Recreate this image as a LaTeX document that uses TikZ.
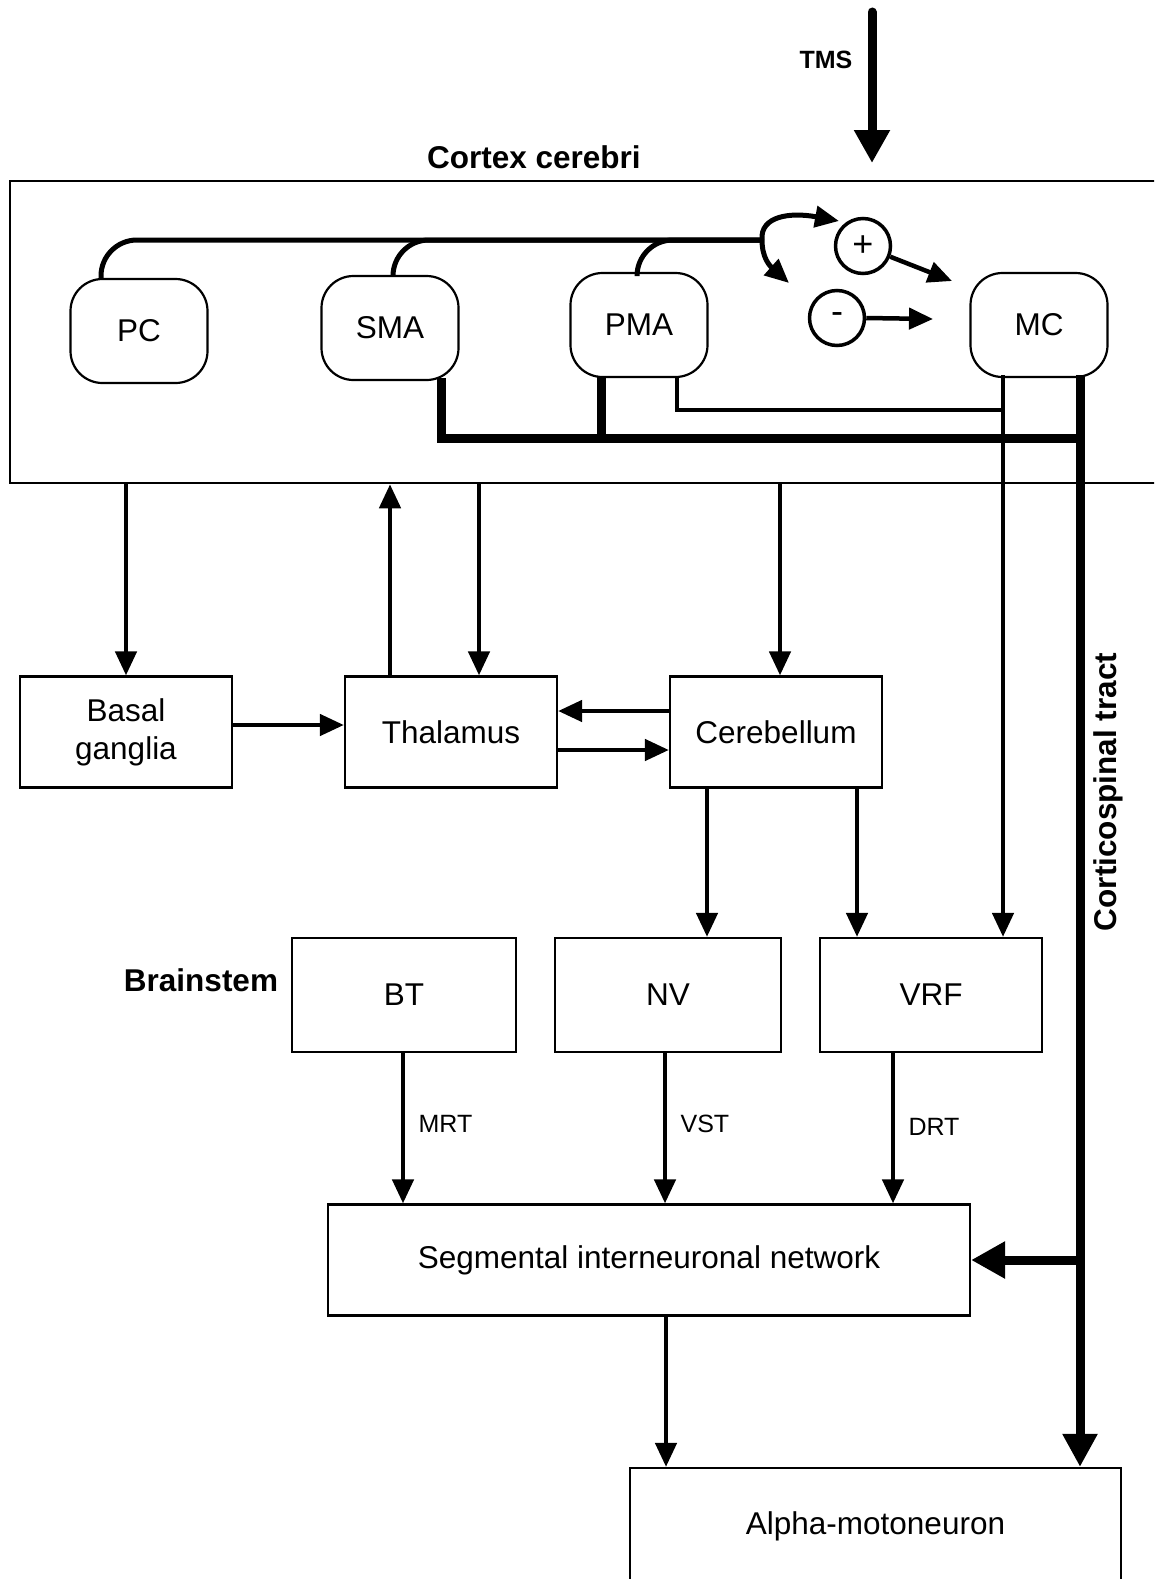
\documentclass[tikz,border=0pt]{standalone}
\usepackage{fontspec}
\setmainfont{Liberation Sans}
\usetikzlibrary{arrows.meta}
\tikzset{
  big/.style={font=\fontsize{31.5}{38}\selectfont},
  small/.style={font=\fontsize{25}{30}\selectfont},
  rbox/.style={draw, line width=2.2pt, rounded corners=32pt, minimum width=137pt, minimum height=104pt, inner sep=0pt, big},
  sbox/.style={draw, line width=2.2pt, inner sep=0pt, big, align=center},
  conn/.style={line width=4.5pt, -{Triangle[length=24pt,width=21pt]}},
  plain/.style={line width=4.5pt},
  bus/.style={line width=5pt, rounded corners=36pt},
  thickbus/.style={line width=9pt},
  bigtip/.style={-{Triangle[length=33pt,width=33pt]}},
  sign/.style={circle, draw, line width=3.5pt, minimum size=55pt, inner sep=0pt, font=\fontsize{36}{36}\selectfont}
}
\begin{document}
\begin{tikzpicture}[x=1pt,y=-1pt]
\useasboundingbox (0,0) rectangle (1154,1579);
\clip (0,0) rectangle (1154,1579);
% cortex
\node[draw, line width=2.5pt, minimum width=1165pt, minimum height=302pt, inner sep=0pt] (ctx) at (592.5,332) {};
\node[big, font=\fontsize{31.5}{38}\selectfont\bfseries] (ctxlab) at (534,157) {Cortex cerebri};
\node[small, font=\fontsize{25}{30}\selectfont\bfseries] (tmslab) at (826,60) {TMS};
\coordinate (tmsstart) at (872,12);
\draw[line width=9pt, line cap=round, -{Triangle[length=33pt,width=34pt]}] (tmsstart) -- (872,163);

\node[rbox] (pc) at (139,331) {PC};
\node[rbox] (sma) at (390,328) {SMA};
\node[rbox] (pma) at (639,325) {PMA};
\node[rbox] (mc) at (1039,325) {MC};
\node[sign] (plus) at (863,246) {+};
\node[sign] (minus) at (837,318) {-};

% top bus
\coordinate (split) at (762,240);
\draw[bus] ([xshift=-38pt]pc.north) |- (split);
\draw[bus] ([xshift=3pt]sma.north) |- (split);
\draw[bus] ([xshift=-2pt]pma.north) |- (split);
\coordinate (toplus) at (839,221);
\coordinate (tominus) at (789,283);
\draw[line width=5pt, -{Triangle[length=24pt,width=21pt]}] (split) .. controls (760,216) and (790,212) .. (toplus);
\draw[line width=5pt, -{Triangle[length=24pt,width=21pt]}] (split) .. controls (762,258) and (770,266) .. (tominus);
\coordinate (mcin1) at (952,281);
\coordinate (mcin2) at (933,319);
\draw[conn] (plus) -- (mcin1);
\draw[conn] (minus.east) -- (mcin2);

% lower buses
\coordinate (tb) at (1080,438);
\coordinate (tn) at (1003,410);
\draw[thickbus] ([xshift=51pt,yshift=3pt]sma.south) |- (tb);
\draw[thickbus] ([xshift=-38pt,yshift=2pt]pma.south) -- ([xshift=-38pt]pma.south |- tb);
\draw[plain] ([xshift=38pt,yshift=2pt]pma.south) |- (tn);

% middle boxes
\node[sbox, minimum width=212pt, minimum height=111pt] (bg) at (126,732) {Basal\\ganglia};
\node[sbox, minimum width=212pt, minimum height=111pt] (th) at (451,732) {Thalamus};
\node[sbox, minimum width=212pt, minimum height=111pt] (cb) at (776,732) {Cerebellum};

\draw[conn] (bg.north |- ctx.south) -- (bg.north);
\draw[conn] ([xshift=-61pt]th.north) -- ([xshift=-61pt]th.north |- ctx.south);
\draw[conn] ([xshift=28pt]th.north |- ctx.south) -- ([xshift=28pt]th.north);
\draw[conn] ([xshift=4pt]cb.north |- ctx.south) -- ([xshift=4pt]cb.north);
\draw[conn] ([yshift=7pt]bg.east) -- ([yshift=7pt]th.west);
\draw[conn] ([yshift=21pt]cb.west) -- ([yshift=21pt]th.east);
\draw[conn] ([yshift=-18pt]th.east) -- ([yshift=-18pt]cb.west);

% brainstem
\node[sbox, minimum width=224pt, minimum height=114pt] (bt) at (404,995) {BT};
\node[sbox, minimum width=226pt, minimum height=114pt] (nv) at (668,995) {NV};
\node[sbox, minimum width=222pt, minimum height=114pt] (vrf) at (931,995) {VRF};
\node[big, font=\fontsize{31.5}{38}\selectfont\bfseries] (bslab) at (201,980) {Brainstem};

\draw[conn] ([xshift=-69pt]cb.south) -- ([xshift=-69pt]cb.south |- nv.north);
\draw[conn] ([xshift=81pt]cb.south) -- ([xshift=81pt]cb.south |- vrf.north);
\draw[line width=4.5pt, -{Triangle[length=24pt,width=21pt]}] ([xshift=-36pt,yshift=3pt]mc.south) -- ([xshift=-36pt]mc.south |- vrf.north);

% segmental
\node[sbox, minimum width=642pt, minimum height=111pt] (seg) at (649,1260) {Segmental interneuronal network};
\draw[conn] ([xshift=-1pt]bt.south) -- ([xshift=-1pt]bt.south |- seg.north) node[pos=0.47, right=10pt, small] (mrt) {MRT};
\draw[conn] ([xshift=-3pt]nv.south) -- ([xshift=-3pt]nv.south |- seg.north) node[pos=0.47, right=10pt, small] (vst) {VST};
\draw[conn] ([xshift=-38pt]vrf.south) -- ([xshift=-38pt]vrf.south |- seg.north) node[pos=0.49, right=10pt, small] (drt) {DRT};

% alpha
\node[sbox, minimum width=491pt, minimum height=116pt] (alpha) at (875.5,1526) {Alpha-motoneuron};
\draw[conn] ([xshift=17pt]seg.south) -- ([xshift=17pt]seg.south |- alpha.north);

% corticospinal tract
\draw[thickbus, bigtip] ([xshift=41pt,yshift=3pt]mc.south) -- ([xshift=41pt]mc.south |- alpha.north);
\coordinate (csb) at (1080,1260);
\draw[thickbus, -{Triangle[length=34pt,width=35pt]}] (csb) -- (seg.east);
\node[rotate=90, font=\fontsize{31.5}{38}\selectfont\bfseries] (cstlab) at (1108,792) {Corticospinal tract};
\end{tikzpicture}
\end{document}
